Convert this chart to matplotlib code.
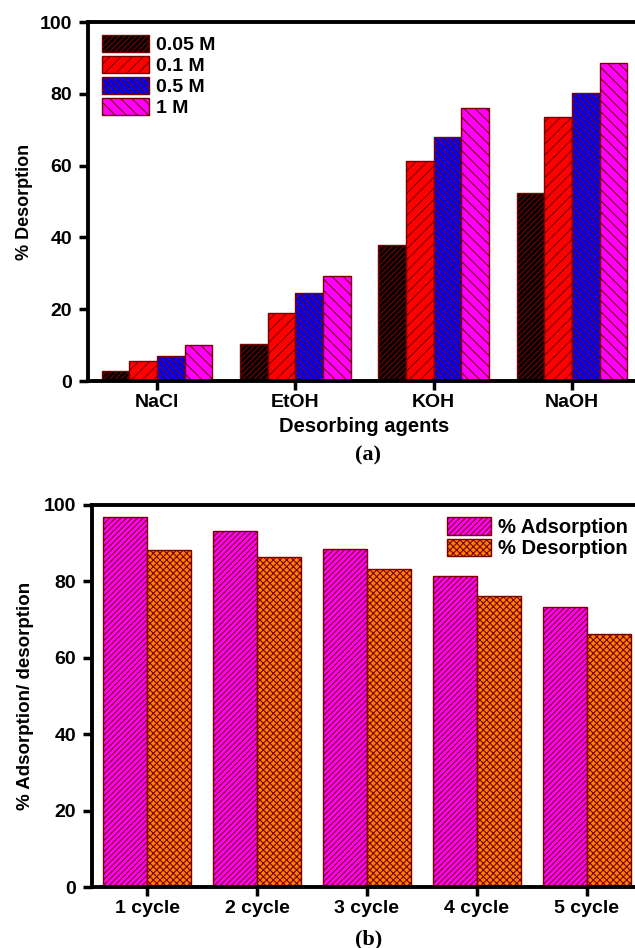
import numpy as np
import matplotlib
matplotlib.use("Agg")
import matplotlib.pyplot as plt

plt.rcParams['font.family'] = ['Liberation Sans', 'DejaVu Sans']
plt.rcParams['font.weight'] = 'bold'
plt.rcParams['hatch.linewidth'] = 0.8

# (a) desorbing agents
agents = ['NaCl', 'EtOH', 'KOH', 'NaOH']
conc_labels = ['0.05 M', '0.1 M', '0.5 M', '1 M']
des_005 = [2.7, 10.4, 37.9, 52.5]
des_01 = [5.6, 19.1, 61.2, 73.5]
des_05 = [7.1, 24.5, 67.9, 80.2]
des_1 = [10.1, 29.4, 76.0, 88.6]

# (b) cycles
cycles = ['1 cycle', '2 cycle', '3 cycle', '4 cycle', '5 cycle']
adsorption = [96.9, 93.3, 88.6, 81.3, 73.3]
desorption = [88.3, 86.4, 83.3, 76.3, 66.3]

edge = '#7a0000'

fig = plt.figure(figsize=(6.35, 9.48), dpi=100)
ax1 = fig.add_axes([0.1386, 0.598, 0.871, 0.3787])
ax2 = fig.add_axes([0.1449, 0.0643, 0.866, 0.403])


def style_axes(ax):
    for s in ax.spines.values():
        s.set_linewidth(2.8)
    ax.tick_params(axis='both', direction='out', length=6.5, width=2.5,
                   labelsize=14)
    ax.tick_params(axis='y', pad=5)
    ax.tick_params(axis='x', pad=3)
    ax.set_yticks([0, 20, 40, 60, 80, 100])
    ax.set_ylim(0, 100)


# --- panel (a)
x = np.arange(len(agents))
w = 0.2
series = [des_005, des_01, des_05, des_1]
colors = ['#000000', '#ff0000', '#0000ff', '#ff00ff']
hatches = ['//////', '///', '\\\\\\\\\\', '\\\\\\']
for i, vals in enumerate(series):
    ax1.bar(x + (i - 1.5) * w, vals, w, color=colors[i], edgecolor=edge,
            hatch=hatches[i], linewidth=1.0, label=conc_labels[i])
ax1.set_xlim(-0.5, 3.5)
ax1.set_xticks(x)
ax1.set_xticklabels(agents)
style_axes(ax1)
ax1.set_ylabel('% Desorption', fontsize=13, fontweight='bold', labelpad=5)
ax1.set_xlabel('Desorbing agents', fontsize=14.5, fontweight='bold', labelpad=4)
ax1.legend(loc='upper left', frameon=False, fontsize=14, handlelength=2.4,
           handleheight=0.95, labelspacing=0.1, handletextpad=0.4,
           borderaxespad=0.0, borderpad=0.0, bbox_to_anchor=(0.025, 0.964))
fig.text(0.58, 0.52, '(a)', ha='center', va='center', fontsize=16,
         fontweight='bold', family='Liberation Serif')

# --- panel (b)
xb = np.arange(len(cycles))
wb = 0.4
ax2.bar(xb - wb / 2, adsorption, wb, color='#ff00ff', edgecolor=edge,
        hatch='//////', linewidth=1.0, label='% Adsorption')
ax2.bar(xb + wb / 2, desorption, wb, color='#ff8000', edgecolor=edge,
        hatch='xxxxx', linewidth=1.0, label='% Desorption')
ax2.set_xlim(-0.5, 4.5)
ax2.set_xticks(xb)
ax2.set_xticklabels(cycles)
style_axes(ax2)
ax2.set_ylabel('% Adsorption/ desorption', fontsize=13.5, fontweight='bold',
               labelpad=7)
ax2.legend(loc='upper right', frameon=False, fontsize=14.5, handlelength=2.2,
           handleheight=0.95, labelspacing=0.1, handletextpad=0.35,
           borderaxespad=0.0, borderpad=0.0, bbox_to_anchor=(0.975, 0.968))
fig.text(0.58, 0.009, '(b)', ha='center', va='center', fontsize=16,
         fontweight='bold', family='Liberation Serif')

fig.savefig('out.png', dpi=100)
